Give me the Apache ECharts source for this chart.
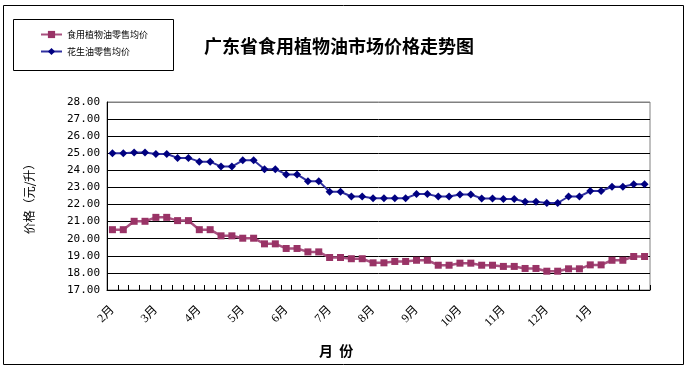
<!DOCTYPE html>
<html>
<head>
<meta charset="utf-8">
<script src="https://cdn.jsdelivr.net/npm/echarts@6/dist/echarts.min.js"></script>
<style>
html,body{margin:0;padding:0;background:#fff;}
#c{width:686px;height:368px;}
</style>
</head>
<body>
<div id="c"></div>
<script>
// Tick labels on the category axis (one every 4 weekly points)
const monthLabels = ['2月','3月','4月','5月','6月','7月','8月','9月','10月','11月','12月','1月'];
// Weekly categories
const categories = [];
for (let i = 0; i < 50; i++) categories.push('W' + (i + 1));
// 食用植物油零售均价
const edibleOil = [20.53,20.53,21.02,21.02,21.25,21.25,21.06,21.06,20.53,20.53,
  20.17,20.17,20.03,20.03,19.70,19.70,19.43,19.43,19.23,19.23,
  18.90,18.90,18.83,18.83,18.59,18.59,18.67,18.67,18.74,18.74,
  18.45,18.45,18.57,18.57,18.45,18.45,18.38,18.38,18.26,18.26,
  18.10,18.10,18.24,18.24,18.47,18.47,18.74,18.74,18.96,18.96];
// 花生油零售均价
const peanutOil = [25.00,25.00,25.05,25.05,24.96,24.96,24.73,24.73,24.51,24.51,
  24.22,24.22,24.59,24.59,24.07,24.07,23.76,23.76,23.37,23.37,
  22.75,22.75,22.47,22.47,22.37,22.37,22.37,22.37,22.61,22.61,
  22.47,22.47,22.59,22.59,22.36,22.36,22.32,22.32,22.16,22.16,
  22.09,22.09,22.47,22.47,22.79,22.79,23.04,23.04,23.19,23.19];
const seriesNames = ['食用植物油零售均价','花生油零售均价'];
const yTicks = {min:17, max:28, interval:1};

const chart = echarts.init(document.getElementById('c'), null, {renderer:'canvas'});
const splitColors = [];
for (let i = 0; i < 11; i++) splitColors.push('#000');
splitColors.push('#808080');

chart.setOption({
  animation:false,
  backgroundColor:'#fff',
  title:{
    text:'广东省食用植物油市场价格走势图',
    left:199, top:32,
    textStyle:{fontFamily:'Noto Sans CJK SC', fontSize:18, fontWeight:'bold', color:'#000'}
  },
  legend:{
    orient:'vertical', left:35, top:25, itemGap:8,
    itemWidth:21, itemHeight:9,
    textStyle:{fontFamily:'Noto Sans CJK SC', fontSize:9, color:'#000'},
    data:seriesNames
  },
  grid:{left:107, top:102, right:36, bottom:78, show:true, borderColor:'#808080', borderWidth:1, backgroundColor:'#fff'},
  xAxis:{
    type:'category', data:categories, boundaryGap:true,
    axisLine:{lineStyle:{color:'#000', width:1}},
    axisTick:{show:true, inside:true, length:5, interval:0, lineStyle:{color:'#000'}},
    axisLabel:{
      interval:0, rotate:45, margin:18,
      fontFamily:'Liberation Serif, Noto Sans CJK SC', fontSize:12, color:'#000',
      formatter:function(v, idx){ return idx % 4 === 0 ? (monthLabels[idx/4] || '') : ''; }
    },
    splitLine:{show:false}
  },
  yAxis:{
    type:'value', min:yTicks.min, max:yTicks.max, interval:yTicks.interval,
    name:'价格（元/升）', nameLocation:'middle', nameGap:72,
    nameTextStyle:{fontFamily:'Noto Sans CJK SC', fontSize:12, color:'#000'},
    axisLine:{show:true, lineStyle:{color:'#000', width:1}},
    axisTick:{show:false},
    axisLabel:{margin:7, fontFamily:'DejaVu Sans Mono', fontSize:11, color:'#000',
      formatter:function(v){ return v.toFixed(2); }},
    splitLine:{show:true, lineStyle:{color:splitColors, width:1}}
  },
  series:[
    {
      name:seriesNames[0], type:'line', data:edibleOil,
      symbol:'rect', symbolSize:7,
      itemStyle:{color:'#993366'},
      lineStyle:{color:'#a8507f', width:2.5},
      z:3
    },
    {
      name:seriesNames[1], type:'line', data:peanutOil,
      symbol:'diamond', symbolSize:8,
      itemStyle:{color:'#000080'},
      lineStyle:{color:'#3030a0', width:2},
      z:3
    }
  ],
  graphic:[
    {type:'rect', shape:{x:3.5, y:5.5, width:680, height:359}, style:{fill:null, stroke:'#000', lineWidth:1}, z:-1},
    {type:'rect', shape:{x:13.5, y:19.5, width:160, height:51}, style:{fill:null, stroke:'#000', lineWidth:1}},
    {type:'text', left:319, top:344, style:{text:'月  份', font:'bold 14px "Noto Sans CJK SC"', fill:'#000'}}
  ]
});
</script>
</body>
</html>
